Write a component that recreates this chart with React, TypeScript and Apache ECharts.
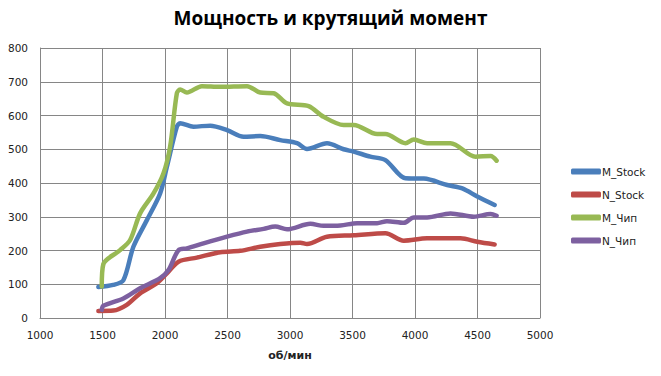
import React, { useEffect, useRef } from "react";
import * as echarts from "echarts";

const xTicks = [1000, 1500, 2000, 2500, 3000, 3500, 4000, 4500, 5000];
const yTicks = [0, 100, 200, 300, 400, 500, 600, 700, 800];

const mStockRpm = [1467, 1585, 1667, 1747, 1855, 1961, 2015, 2095, 2121, 2228, 2362, 2496, 2629, 2762, 2922, 3056, 3136, 3296, 3429, 3510, 3643, 3763, 3924, 4071, 4258, 4378, 4498, 4637];
const mStockVal = [92, 98, 112, 211, 290, 369, 448, 567, 577, 567, 570, 557, 537, 539, 527, 518, 501, 518, 500, 493, 478, 468, 414, 413, 394, 384, 360, 335];

const nStockRpm = [1467, 1587, 1694, 1801, 1935, 2015, 2108, 2255, 2442, 2602, 2762, 2922, 3083, 3136, 3296, 3510, 3763, 3910, 4097, 4364, 4498, 4637];
const nStockVal = [21, 22, 39, 73, 103, 132, 167, 179, 195, 199, 211, 219, 223, 219, 241, 245, 251, 229, 236, 236, 226, 218];

const mChipRpm = [1494, 1507, 1641, 1721, 1801, 1908, 1988, 2041, 2095, 2121, 2175, 2295, 2442, 2656, 2762, 2869, 2976, 3149, 3269, 3429, 3510, 3697, 3763, 3924, 3990, 4097, 4284, 4484, 4605, 4653];
const mChipVal = [93, 160, 201, 231, 310, 369, 429, 508, 666, 677, 668, 687, 685, 687, 668, 666, 636, 628, 596, 572, 572, 545, 545, 518, 529, 518, 518, 478, 480, 466];

const nChipRpm = [1494, 1507, 1667, 1801, 1961, 2028, 2108, 2175, 2308, 2496, 2656, 2789, 2882, 2976, 3163, 3269, 3403, 3537, 3697, 3776, 3910, 3990, 4097, 4284, 4471, 4605, 4653];
const nChipVal = [24, 36, 58, 88, 118, 142, 201, 206, 221, 241, 256, 264, 271, 263, 279, 273, 274, 281, 281, 287, 282, 298, 298, 310, 300, 308, 303];

const seriesNames = ["M_Stock", "N_Stock", "M_Чип", "N_Чип"];
const colors = ["#4a7ebb", "#be4b48", "#98b954", "#7d60a0"];

const pairs = (xs: number[], ys: number[]) => xs.map((x, i) => [x, ys[i]]);

export default function App() {
  const ref = useRef<HTMLDivElement>(null);
  useEffect(() => {
    if (!ref.current) return;
    const chart = echarts.init(ref.current, null, { renderer: "svg" });
    const data = [
      pairs(mStockRpm, mStockVal),
      pairs(nStockRpm, nStockVal),
      pairs(mChipRpm, mChipVal),
      pairs(nChipRpm, nChipVal),
    ];
    const font = "DejaVu Sans";
    chart.setOption({
      animation: false,
      backgroundColor: "#ffffff",
      color: colors,
      title: {
        text: "Мощность и крутящий момент",
        left: "center",
        top: 3,
        textStyle: { fontFamily: "Open Sans", fontWeight: "bold", fontSize: 19, color: "#000" },
      },
      grid: { left: 40, right: 121, top: 48, bottom: 58, containLabel: false },
      legend: {
        orient: "vertical",
        left: 566,
        top: 161,
        itemWidth: 30,
        itemHeight: 6,
        itemGap: 12,
        icon: "roundRect",
        textStyle: { fontFamily: font, fontSize: 10.5, color: "#222", padding: [0, 0, 0, -4] },
        data: seriesNames,
      },
      xAxis: {
        type: "value",
        min: xTicks[0],
        max: xTicks[xTicks.length - 1],
        interval: 500,
        name: "об/мин",
        nameLocation: "middle",
        nameGap: 32,
        nameTextStyle: { fontFamily: font, fontWeight: "bold", fontSize: 11, color: "#222" },
        axisLine: { show: true, lineStyle: { color: "#868686", width: 1 } },
        axisTick: { show: false },
        splitLine: { show: true, lineStyle: { color: "#868686", width: 1 } },
        axisLabel: { fontFamily: font, fontSize: 10.5, color: "#222", margin: 11, formatter: (v: number) => String(v) },
      },
      yAxis: {
        type: "value",
        min: yTicks[0],
        max: yTicks[yTicks.length - 1],
        interval: 100,
        axisLine: { show: true, lineStyle: { color: "#868686", width: 1 } },
        axisTick: { show: false },
        splitLine: { show: true, lineStyle: { color: "#868686", width: 1 } },
        axisLabel: { fontFamily: font, fontSize: 10.5, color: "#222", margin: 12, formatter: (v: number) => String(v) },
      },
      series: seriesNames.map((name, i) => ({
        name,
        type: "line",
        data: data[i],
        smooth: 0.3,
        showSymbol: false,
        lineStyle: { width: 4.5, color: colors[i], cap: "round", join: "round" },
        z: 2 + i,
      })),
    });
    return () => chart.dispose();
  }, []);
  return <div ref={ref} style={{ width: 661, height: 376, margin: -8 }} />;
}
